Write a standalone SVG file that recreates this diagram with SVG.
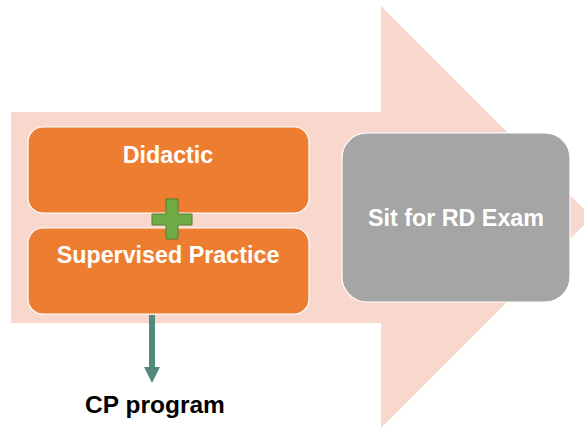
<svg xmlns="http://www.w3.org/2000/svg" width="584" height="428" viewBox="0 0 584 428">
<defs>
<style>
.lbl{font-family:"Liberation Sans",Arial,sans-serif;font-weight:bold;font-size:23.3px;text-anchor:middle;fill:#FFFFFF}
.box{fill:#ED7D31;stroke:#FFFFFF;stroke-width:1.2}
</style>
<marker id="ah" markerWidth="16" markerHeight="16" refX="0" refY="8" orient="auto" markerUnits="userSpaceOnUse">
<path d="M0,0 L16,8 L0,16 Z" fill="#548A7B"/>
</marker>
</defs>
<rect width="584" height="428" fill="#FFFFFF"/>
<g id="bigArrow">
<path d="M11,112 L381,112 L381,6 L592,217 L381,428 L381,323 L11,323 Z" fill="#F8D7CD"/>
</g>
<g id="didactic">
<rect class="box" x="28" y="127" width="281" height="86" rx="15"/>
<text class="lbl" x="168" y="163">Didactic</text>
</g>
<g id="supervised">
<rect class="box" x="28" y="228" width="281" height="86" rx="15"/>
<text class="lbl" x="168" y="263">Supervised Practice</text>
</g>
<g id="plus">
<path d="M166,199 H178 V214 H192 V225 H178 V239 H166 V225 H152 V214 H166 Z" fill="#70AD47" stroke="#507E32" stroke-width="1"/>
</g>
<g id="rdExam">
<rect x="342" y="133" width="228" height="169" rx="25" fill="#A5A5A5" stroke="#FFFFFF" stroke-width="1.2"/>
<text class="lbl" x="456" y="226">Sit for RD Exam</text>
</g>
<g id="connectors">
<line x1="152" y1="315" x2="152" y2="367" stroke="#548A7B" stroke-width="6" marker-end="url(#ah)"/>
</g>
<g id="cp">
<text x="155" y="413" style="font-family:'Liberation Sans',Arial,sans-serif;font-weight:bold;font-size:24.5px;text-anchor:middle;fill:#000000">CP program</text>
</g>
</svg>
